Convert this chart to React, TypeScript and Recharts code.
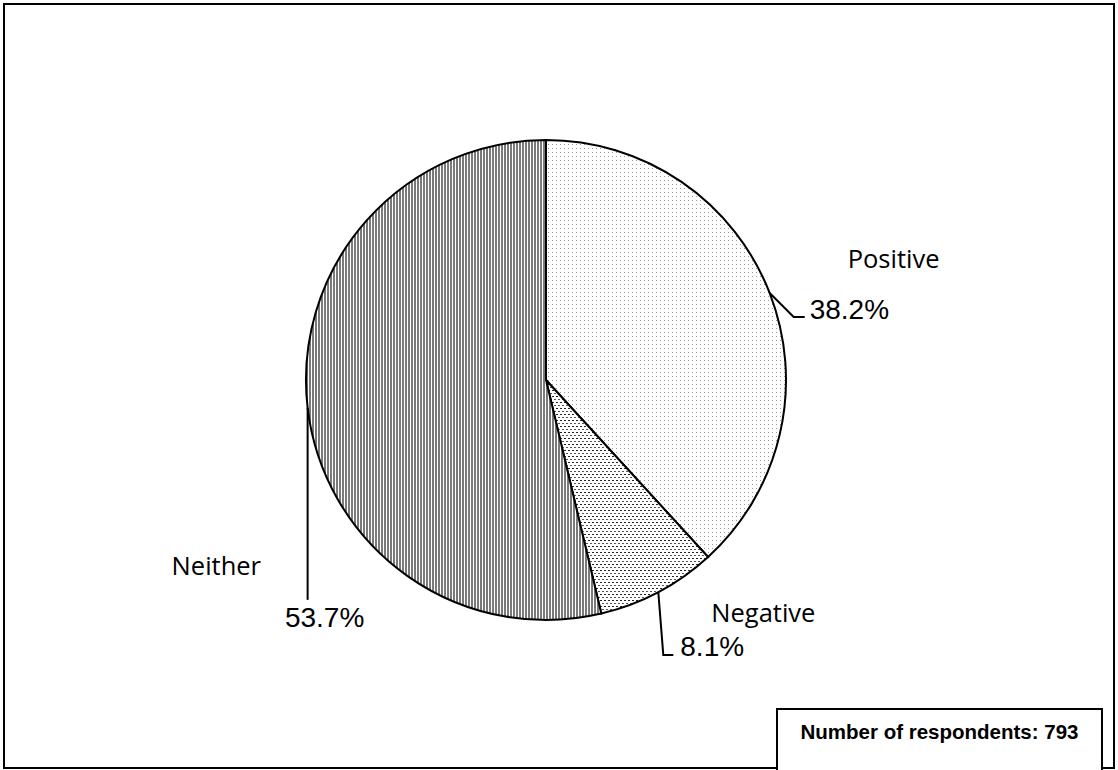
import React from 'react';
import { PieChart, Pie, Cell } from 'recharts';

const categories = ['Positive', 'Negative', 'Neither'];
const shares = [38.2, 8.1, 53.7];
const pctLabels = ['38.2%', '8.1%', '53.7%'];
const respondents = 793;

const data = categories.map((name, i) => ({ name, value: shares[i], pct: pctLabels[i] }));
const fills = ['url(#patPositive)', 'url(#patNegative)', 'url(#patNeither)'];

// label layout relative to the slice's outer edge point at its mid angle
const labelLayout = [
  { path: [[0, 0], [24, 24], [35, 24]], pct: [40, 26, 'start'], name: [78, -25, 'start'] },
  { path: [[0, 0], [5, 63], [15, 63]], pct: [22, 64, 'start'], name: [53, 30, 'start'] },
  { path: [[0, 0], [0, 192]], pct: [17, 219, 'middle'], name: [-136, 167, 'start'] },
];

const RAD = Math.PI / 180;

const renderLabel = (props: any) => {
  const { cx, cy, midAngle, outerRadius, index } = props;
  const ex = cx + outerRadius * Math.cos(-midAngle * RAD);
  const ey = cy + outerRadius * Math.sin(-midAngle * RAD);
  const L = labelLayout[index];
  const d = L.path.map((p, i) => `${i === 0 ? 'M' : 'L'}${ex + p[0]},${ey + p[1]}`).join(' ');
  return (
    <g key={`lbl-${index}`}>
      <path d={d} stroke="#000" strokeWidth={2} fill="none" />
      <text
        x={ex + (L.pct[0] as number)}
        y={ey + (L.pct[1] as number)}
        textAnchor={L.pct[2] as any}
        fontFamily="'Liberation Sans', Arial, sans-serif"
        fontSize={28}
        fill="#000"
      >
        {data[index].pct}
      </text>
      <text
        x={ex + (L.name[0] as number)}
        y={ey + (L.name[1] as number)}
        textAnchor={L.name[2] as any}
        fontFamily="'Open Sans', sans-serif"
        fontSize={25.5}
        fill="#000"
      >
        {data[index].name}
      </text>
    </g>
  );
};

export default function App() {
  return (
    <div style={{ position: 'absolute', left: 0, top: 0, width: 1118, height: 770, background: '#fff', overflow: 'hidden' }}>
      <svg width={0} height={0} style={{ position: 'absolute' }}>
        <defs>
          <pattern id="patPositive" width={4} height={4} patternUnits="userSpaceOnUse">
            <rect width={4} height={4} fill="#fff" />
            <rect x={0} y={0} width={1} height={1} fill="#999" />
          </pattern>
          <pattern id="patNegative" width={4} height={6} patternUnits="userSpaceOnUse">
            <rect width={4} height={6} fill="#fff" />
            <rect x={0} y={0} width={2} height={1} fill="#222" />
            <rect x={2} y={3} width={2} height={1} fill="#555" />
          </pattern>
          <pattern id="patNeither" width={3} height={3} patternUnits="userSpaceOnUse">
            <rect width={3} height={3} fill="#fff" />
            <rect x={0} y={0} width={2} height={3} fill="#7a7a7a" />
          </pattern>
        </defs>
      </svg>
      <div style={{ position: 'absolute', left: 3, top: 3, width: 1108, height: 762, border: '2px solid #000' }} />
      <div style={{ position: 'absolute', left: 0, top: 0 }}>
        <PieChart width={1118} height={770} margin={{ top: 0, right: 0, bottom: 0, left: 0 }}>
          <Pie
            data={data}
            dataKey="value"
            nameKey="name"
            cx={546}
            cy={380}
            outerRadius={240}
            startAngle={90}
            endAngle={-270}
            stroke="#000"
            strokeWidth={2}
            label={renderLabel}
            labelLine={false}
            isAnimationActive={false}
          >
            {data.map((d, i) => (
              <Cell key={d.name} fill={fills[i]} stroke="#000" strokeWidth={2} />
            ))}
          </Pie>
        </PieChart>
      </div>
      <div
        style={{
          position: 'absolute',
          left: 776,
          top: 708,
          width: 327,
          height: 80,
          border: '2px solid #000',
          background: '#fff',
          fontFamily: "'Liberation Sans', Arial, sans-serif",
          fontWeight: 'bold',
          fontSize: 20.5,
          textAlign: 'center',
          lineHeight: '24px',
          paddingTop: 10,
          boxSizing: 'border-box',
        }}
      >
        {`Number of respondents: ${respondents}`}
      </div>
    </div>
  );
}
